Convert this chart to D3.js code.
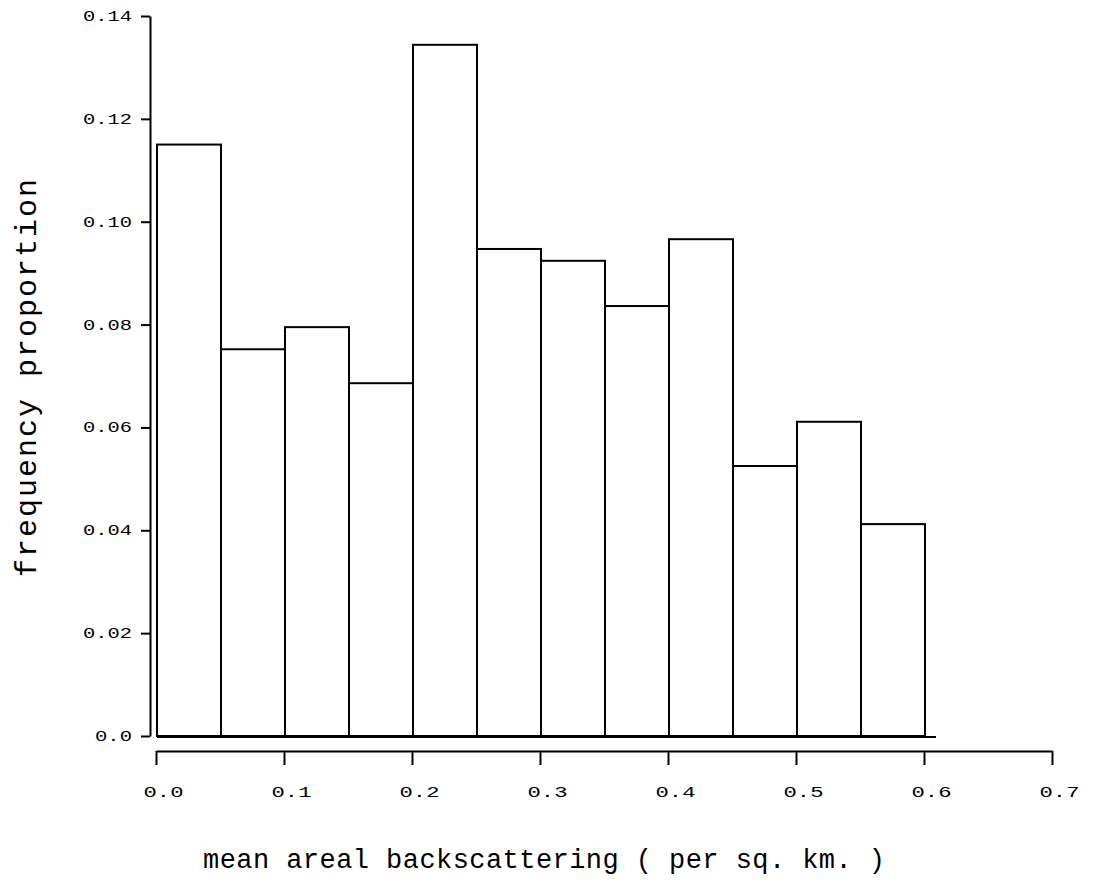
<!DOCTYPE html>
<html>
<head>
<meta charset="utf-8">
<script src="https://cdn.jsdelivr.net/npm/d3@7"></script>
<style>
  html, body { margin: 0; padding: 0; background: #fff; }
  svg { display: block; }
  text { font-family: "Liberation Mono", "DejaVu Sans Mono", monospace; fill: #000; }
</style>
</head>
<body>
<svg id="chart" width="1097" height="896"></svg>
<script>
// Histogram bins (left edge of each 0.05-wide class) and frequency proportions
const binStarts = [0.00, 0.05, 0.10, 0.15, 0.20, 0.25, 0.30, 0.35, 0.40, 0.45, 0.50, 0.55];
const proportions = [0.1150, 0.0752, 0.0795, 0.0686, 0.1344, 0.0947, 0.0924, 0.0836, 0.0966, 0.0525, 0.0611, 0.0412];
const binWidth = 0.05;

const xTicks = [0.0, 0.1, 0.2, 0.3, 0.4, 0.5, 0.6, 0.7];
const yTicks = [0.00, 0.02, 0.04, 0.06, 0.08, 0.10, 0.12, 0.14];

const xTitle = "mean areal backscattering ( per sq. km. )";
const yTitle = "frequency proportion";

const svg = d3.select("#chart");

const x = d3.scaleLinear().domain([0, 0.7]).range([156, 1052]);
const y = d3.scaleLinear().domain([0, 0.14]).range([736, 16]);

// Bars: open rectangles with black outlines
svg.append("g")
  .selectAll("rect")
  .data(binStarts.map((s, i) => ({ start: s, value: proportions[i] })))
  .join("rect")
  .attr("x", d => x(d.start) + 1)
  .attr("y", d => y(d.value))
  .attr("width", d => x(d.start + binWidth) - x(d.start))
  .attr("height", d => y(0) - y(d.value))
  .attr("fill", "none")
  .attr("stroke", "#000")
  .attr("stroke-width", 2);

// Base line under the bars
svg.append("line")
  .attr("x1", x(0) + 1).attr("x2", x(0.6) + 12)
  .attr("y1", y(0) + 1).attr("y2", y(0) + 1)
  .attr("stroke", "#000").attr("stroke-width", 2);

// Y axis, set slightly left of the bars
const yAxis = svg.append("g")
  .attr("transform", "translate(150,0)")
  .call(d3.axisLeft(y)
    .tickValues(yTicks)
    .tickSize(9)
    .tickSizeOuter(0)
    .tickPadding(9)
    .tickFormat(d => d === 0 ? "0.0" : d3.format(".2f")(d)));
yAxis.selectAll("path, line").attr("stroke", "#000").attr("stroke-width", 2);
yAxis.selectAll("text")
  .attr("font-size", 14)
  .attr("font-family", "Liberation Mono, monospace")
  .attr("textLength", function () { return this.textContent.length === 3 ? 37 : 49; })
  .attr("lengthAdjust", "spacingAndGlyphs");

// X axis, drawn as a separate line below the histogram
const xAxis = svg.append("g")
  .attr("transform", "translate(0,751)")
  .call(d3.axisBottom(x)
    .tickValues(xTicks)
    .tickSize(14)
    .tickSizeOuter(0)
    .tickFormat(d3.format(".1f")));
xAxis.selectAll("path, line").attr("stroke", "#000").attr("stroke-width", 2);
xAxis.selectAll("text")
  .attr("font-size", 15)
  .attr("font-family", "Liberation Mono, monospace")
  .attr("x", 7)
  .attr("y", 41)
  .attr("dy", "0.35em")
  .attr("textLength", 40)
  .attr("lengthAdjust", "spacingAndGlyphs");

// Axis titles
svg.append("text")
  .attr("x", 544).attr("y", 868)
  .attr("text-anchor", "middle")
  .attr("font-size", 27)
  .attr("textLength", 682)
  .attr("lengthAdjust", "spacing")
  .text(xTitle);

svg.append("text")
  .attr("transform", "translate(36,378) rotate(-90)")
  .attr("text-anchor", "middle")
  .attr("font-size", 30)
  .attr("textLength", 398)
  .attr("lengthAdjust", "spacing")
  .text(yTitle);
</script>
</body>
</html>
